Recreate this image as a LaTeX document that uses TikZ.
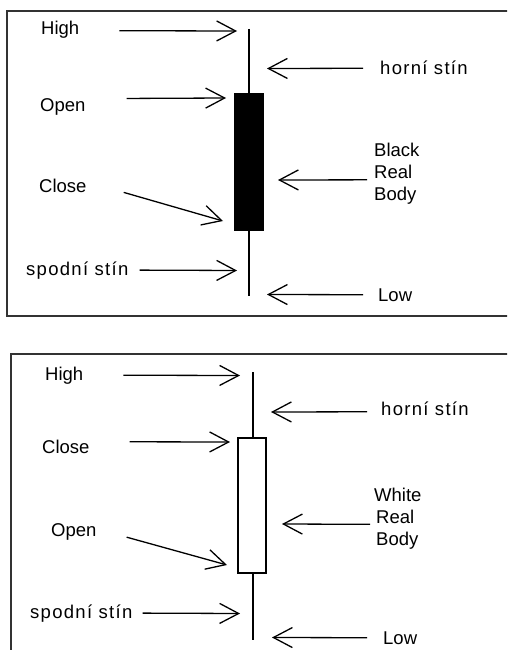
\documentclass[tikz,border=0pt]{standalone}
\usepackage{fontspec}
\setmainfont{Liberation Sans}
\newfontfamily\widefont{Liberation Sans}[LetterSpace=7]
\usetikzlibrary{arrows.meta,calc}

\begin{document}
\begin{tikzpicture}[x=1pt,y=-1pt,>={Straight Barb[length=19pt,width=20pt]},
    lbl/.style={anchor=base west,inner sep=0pt,font=\fontsize{18.5}{22}\selectfont},
    wide/.style={lbl,font=\fontsize{18.5}{22}\selectfont\widefont},
    multi/.style={anchor=north west,inner sep=0pt,align=left,font=\fontsize{18.5}{22}\selectfont},
    arr/.style={->,line width=1.3pt},
    frm/.style={draw=black!80,line width=1.8pt},
    wick/.style={line width=1.5pt}]
  \useasboundingbox (0,0) rectangle (507,650);
  \clip (0,0) rectangle (507,650);

  % black candle
  \draw[frm] (7,11) rectangle (530,316);
  \draw[wick] (249,29) -- (249,296);
  \node[draw,fill=black,line width=1pt,minimum width=29pt,minimum height=136pt,inner sep=0pt] (bbody) at (248.5,162) {};
  \node[lbl] (bhigh) at (41,35) {High};
  \node[lbl] (bopen) at (40,112) {Open};
  \node[lbl] (bclose) at (39,192) {Close};
  \node[wide] (blower) at (26,275) {spodní stín};
  \node[wide] (bupper) at (380,75) {horní stín};
  \node[lbl] (blow) at (378,301) {Low};
  \node[multi] (breal) at (374,143) {Black\\Real\\Body};
  \coordinate (bhightip) at (237,31);
  \coordinate (bopentip) at (226,98);
  \coordinate (bclosetip) at (223,221);
  \coordinate (blowertip) at (237,270.5);
  \coordinate (buppertip) at (267,68.5);
  \coordinate (bbodytip) at (278,180);
  \coordinate (blowtip) at (267,294.5);
  \draw[arr] ([shift={(40,0.5)}]bhigh.east) -- (bhightip);
  \draw[arr] ([shift={(41,-9)}]bopen.east) -- (bopentip);
  \draw[arr] ([shift={(37,7)}]bclose.east) -- (bclosetip);
  \draw[arr] ([xshift=11pt]blower.east) -- (blowertip);
  \draw[arr] ([xshift=-17pt]bupper.west) -- (buppertip);
  \draw[arr] ([shift={(-7,6)}]breal.west) -- (bbodytip);
  \draw[arr] ([xshift=-15pt]blow.west) -- (blowtip);

  % white candle
  \draw[frm] (11,354) rectangle (530,680);
  \draw[wick] (253,372) -- (253,640);
  \node[draw,fill=white,line width=1.3pt,minimum width=28pt,minimum height=135pt,inner sep=0pt] (wbody) at (252,505.5) {};
  \node[lbl] (whigh) at (45,380) {High};
  \node[lbl] (wclose) at (42,453) {Close};
  \node[lbl] (wopen) at (51,536) {Open};
  \node[wide] (wlower) at (30,618) {spodní stín};
  \node[wide] (wupper) at (381,415) {horní stín};
  \node[lbl] (wlow) at (383,644) {Low};
  \node[multi] (wreal) at (374,488) {White\\\hspace{2pt}Real\\\hspace{2pt}Body};
  \coordinate (whightip) at (240,375.5);
  \coordinate (wclosetip) at (230,442);
  \coordinate (wopentip) at (227,565);
  \coordinate (wlowertip) at (240,613.5);
  \coordinate (wuppertip) at (271,412);
  \coordinate (wbodytip) at (282,524);
  \coordinate (wlowtip) at (272,637.5);
  \draw[arr] ([xshift=40pt]whigh.east) -- (whightip);
  \draw[arr] ([shift={(40,-4.6)}]wclose.east) -- (wclosetip);
  \draw[arr] ([shift={(30,5.7)}]wopen.east) -- (wopentip);
  \draw[arr] ([xshift=10pt]wlower.east) -- (wlowertip);
  \draw[arr] ([shift={(-14,3.5)}]wupper.west) -- (wuppertip);
  \draw[arr] ([shift={(-4,5.5)}]wreal.west) -- (wbodytip);
  \draw[arr] ([xshift=-16pt]wlow.west) -- (wlowtip);
\end{tikzpicture}
\end{document}
